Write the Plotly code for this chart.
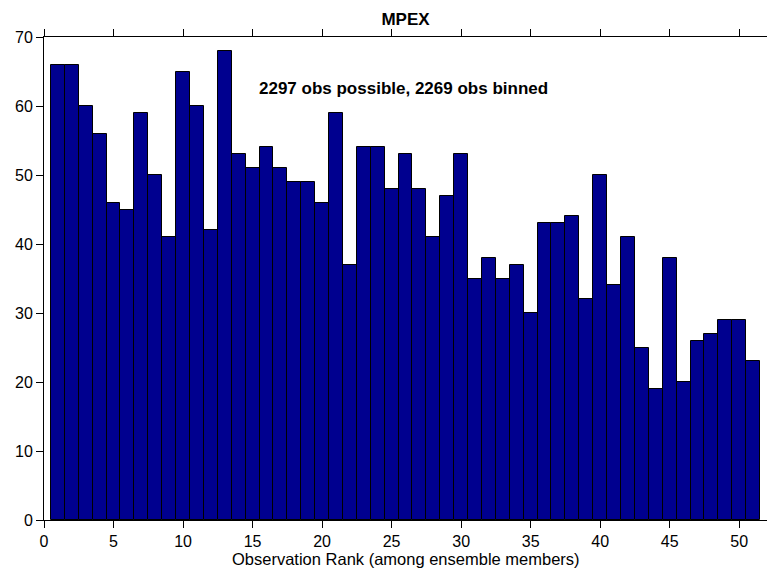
import plotly.graph_objects as go

# observation rank histogram counts (ranks 1..51)
ranks = list(range(1, 52))
counts = [66, 66, 60, 56, 46, 45, 59, 50, 41, 65,
          60, 42, 68, 53, 51, 54, 51, 49, 49, 46,
          59, 37, 54, 54, 48, 53, 48, 41, 47, 53,
          35, 38, 35, 37, 30, 43, 43, 44, 32, 50,
          34, 41, 25, 19, 38, 20, 26, 27, 29, 29,
          23]
x_ticks = [0, 5, 10, 15, 20, 25, 30, 35, 40, 45, 50]
y_ticks = [0, 10, 20, 30, 40, 50, 60, 70]
title = "MPEX"
note = "2297 obs possible, 2269 obs binned"
x_title = "Observation Rank (among ensemble members)"

FONT = "Liberation Sans, Arial, Helvetica, sans-serif"

fig = go.Figure()
fig.add_trace(go.Bar(
    x=ranks, y=counts, width=1,
    marker=dict(color="#00008F", line=dict(color="black", width=1)),
))

fig.add_annotation(
    x=15.3, y=62.6, xref="x", yref="y", text="<b>%s</b>" % note,
    showarrow=False, xanchor="left", yanchor="middle",
    font=dict(size=17, color="black", family=FONT),
)

# x-axis label as a paper annotation so it sits just under the tick labels
fig.add_annotation(
    x=0.5, y=0, xref="paper", yref="paper", text=x_title,
    showarrow=False, xanchor="center", yanchor="top", yshift=-29,
    borderpad=0, font=dict(size=16.5, color="black", family=FONT),
)

axis_common = dict(
    showline=True, linecolor="black", linewidth=1,
    ticks="outside", ticklen=7, tickcolor="black",
    showgrid=False, zeroline=False, automargin=False,
    tickfont=dict(size=16, color="black", family=FONT),
    mirror="ticks",
)

fig.update_layout(
    width=767, height=568,
    margin=dict(l=44, r=0, t=37, b=48, autoexpand=False),
    paper_bgcolor="white", plot_bgcolor="white",
    showlegend=False,
    title=dict(text="<b>%s</b>" % title, x=0.5, xref="paper", xanchor="center",
               y=0.967, yanchor="middle",
               font=dict(size=17, color="black", family=FONT)),
    xaxis=dict(range=[0, 52], tickvals=x_ticks, **axis_common),
    yaxis=dict(range=[0, 70], tickvals=y_ticks, **axis_common),
    bargap=0,
)

# page body has a default 8px margin; drop it so the figure fills the window
fig.write_html("out.html", config={"displayModeBar": False},
               post_script="document.body.style.margin='0';")
